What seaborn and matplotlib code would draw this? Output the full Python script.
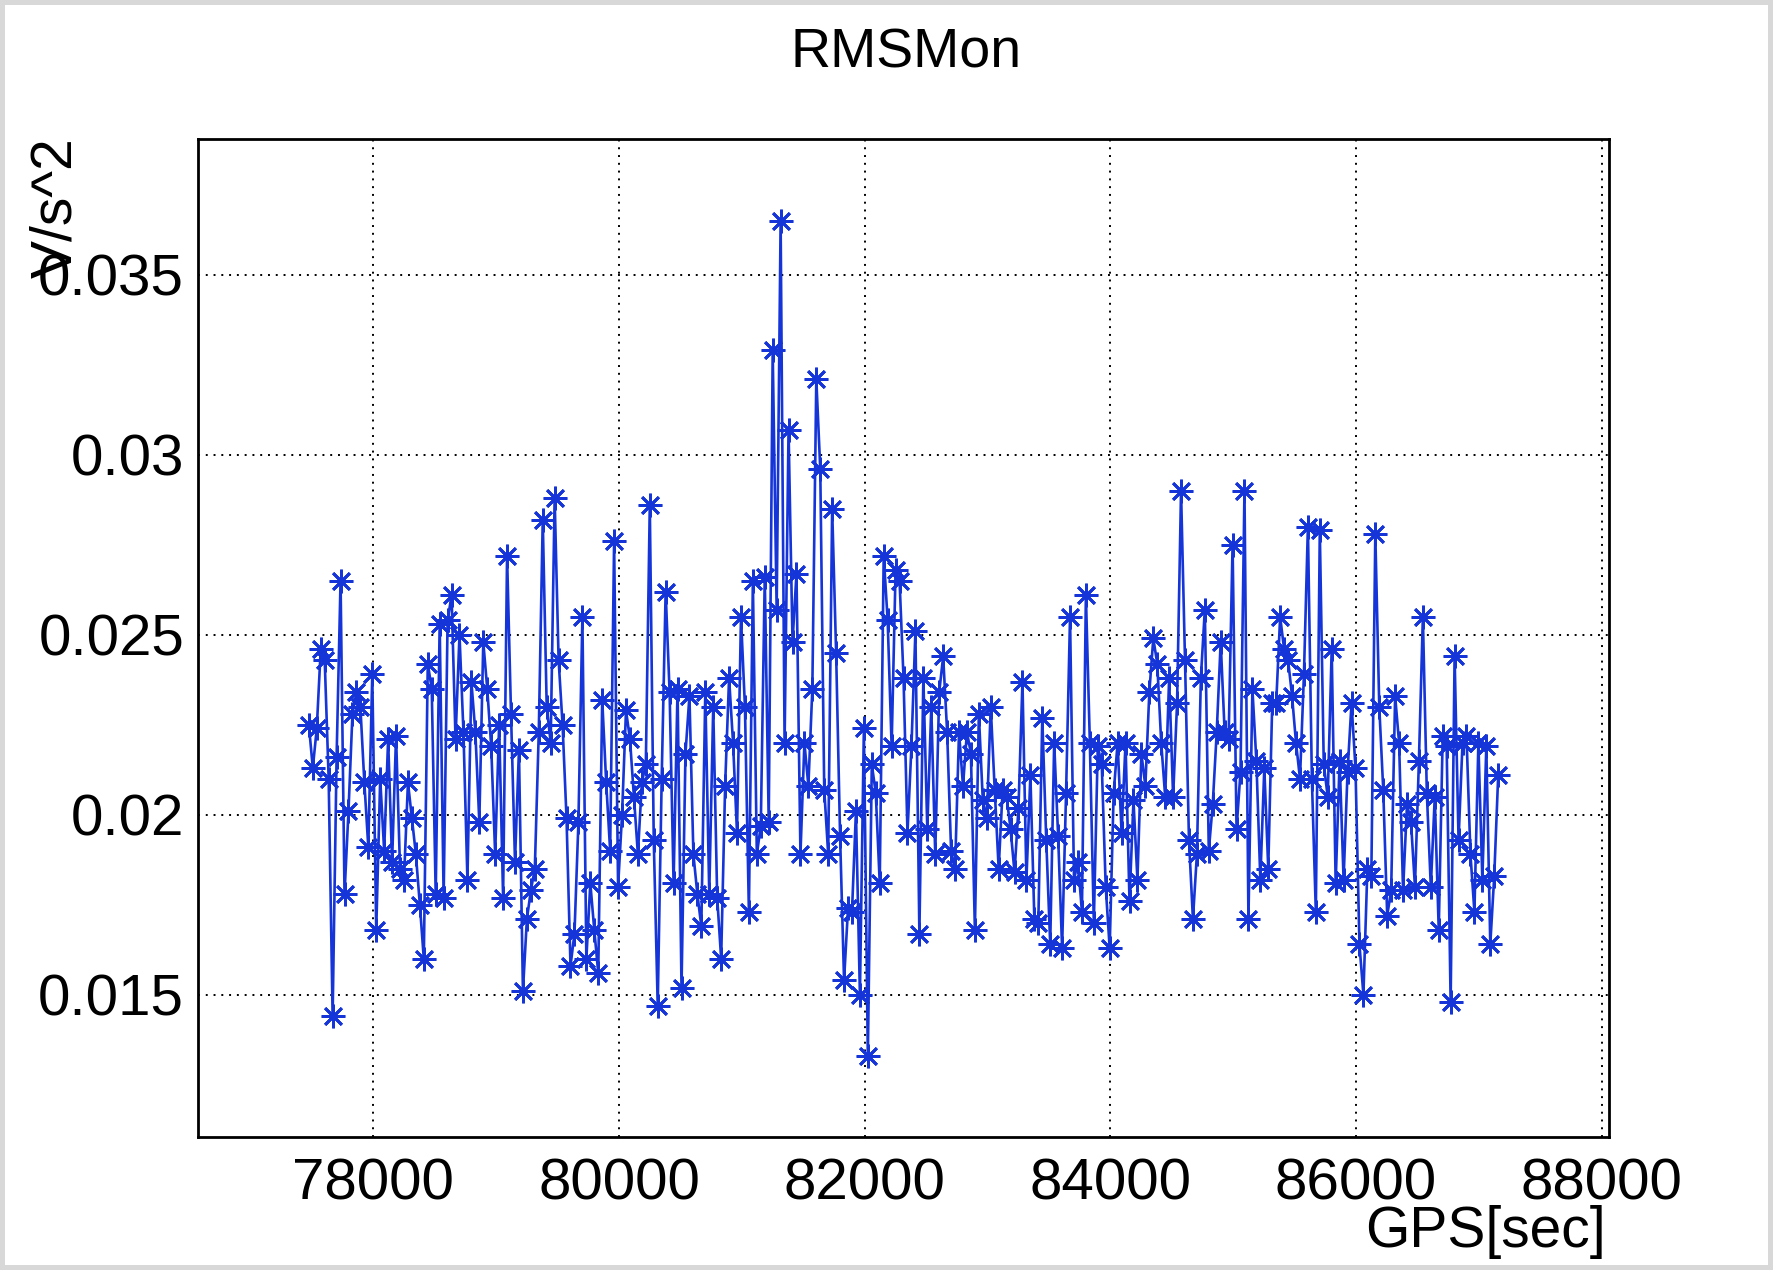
import numpy as np
import pandas as pd
import seaborn as sns
import matplotlib.pyplot as plt
from matplotlib.ticker import MultipleLocator, FuncFormatter

# RMS trace left to right (units of 1e-3 V/s^2)
rms_milli = [
    22.5, 21.3, 22.4, 24.6, 24.3, 21.0, 14.4, 21.6, 26.5, 17.8,
    20.1, 22.8, 23.4, 23.0, 20.9, 19.1, 23.9, 16.8, 21.0, 19.0,
    22.1, 18.7, 22.2, 18.5, 18.2, 20.9, 19.9, 18.9, 17.5, 16.0,
    24.2, 23.5, 17.8, 25.3, 17.7, 25.4, 26.1, 22.1, 25.0, 22.3,
    18.2, 23.7, 22.3, 19.8, 24.8, 23.5, 21.9, 18.9, 22.5, 17.7,
    27.2, 22.8, 18.7, 21.8, 15.1, 17.1, 17.9, 18.5, 22.3, 28.2,
    23.0, 22.0, 28.8, 24.3, 22.5, 19.9, 15.8, 16.7, 19.8, 25.5,
    16.0, 18.1, 16.8, 15.6, 23.2, 20.9, 19.0, 27.6, 18.0, 20.0,
    22.9, 22.1, 20.5, 18.9, 20.9, 21.4, 28.6, 19.3, 14.7, 21.0,
    26.2, 23.4, 18.1, 23.5, 15.2, 21.7, 23.3, 18.9, 17.8, 16.9,
    23.4, 17.8, 23.0, 17.7, 16.0, 20.8, 23.8, 22.0, 19.5, 25.5,
    23.0, 17.3, 26.5, 18.9, 19.7, 26.6, 19.8, 32.9, 25.7, 36.5,
    22.0, 30.7, 24.8, 26.7, 18.9, 22.0, 20.8, 23.5, 32.1, 29.6,
    20.7, 18.9, 28.5, 24.5, 19.4, 15.4, 17.4, 17.3, 20.1, 15.0,
    22.4, 13.3, 21.4, 20.6, 18.1, 27.2, 25.4, 21.9, 26.8, 26.5,
    23.8, 19.5, 21.9, 25.1, 16.7, 23.8, 19.6, 23.0, 18.9, 23.4,
    24.4, 22.3, 19.0, 18.5, 22.3, 20.8, 22.3, 21.7, 16.8, 22.8,
    20.4, 19.9, 23.0, 20.7, 18.5, 20.7, 20.5, 19.6, 18.4, 20.2,
    23.7, 18.2, 21.1, 17.1, 17.0, 22.7, 19.3, 16.4, 22.0, 19.4,
    16.3, 20.6, 25.5, 18.2, 18.7, 17.3, 26.1, 22.0, 17.0, 21.9,
    21.4, 18.0, 16.3, 20.6, 22.0, 19.5, 22.0, 17.6, 20.4, 18.2,
    21.7, 20.8, 23.4, 24.9, 24.2, 22.0, 20.5, 23.8, 20.5, 23.1,
    29.0, 24.3, 19.3, 17.1, 18.9, 23.8, 25.7, 19.0, 20.3, 22.3,
    24.8, 22.3, 22.1, 27.5, 19.6, 21.2, 29.0, 17.1, 23.5, 21.5,
    18.2, 21.3, 18.5, 23.1, 23.1, 25.5, 24.6, 24.3, 23.3, 22.0,
    21.0, 23.9, 28.0, 21.0, 17.3, 27.9, 21.4, 20.5, 24.6, 18.1,
    21.5, 18.2, 21.2, 23.1, 21.3, 16.4, 15.0, 18.5, 18.3, 27.8,
    23.0, 20.7, 17.2, 17.9, 23.3, 22.0, 17.9, 20.3, 19.8, 18.0,
    21.5, 25.5, 20.6, 18.0, 20.5, 16.8, 22.2, 21.9, 14.8, 24.4,
    19.3, 22.0, 22.2, 18.9, 17.3, 22.0, 18.2, 21.9, 16.4, 18.3, 21.1,
]
gps_first = 77475
gps_last = 87158

gps = np.linspace(gps_first, gps_last, len(rms_milli))
df = pd.DataFrame({'GPS': gps, 'RMS': np.array(rms_milli) * 1e-3})

sns.set_style('white')
plt.rcParams['font.family'] = ['Liberation Sans', 'DejaVu Sans']
plt.rcParams['text.color'] = 'black'
plt.rcParams['xtick.color'] = 'black'
plt.rcParams['ytick.color'] = 'black'

fig = plt.figure(figsize=(17.73, 12.7), dpi=100)
ax = fig.add_axes([0.1117, 0.1047, 0.7958, 0.7859])

blue = '#1535d8'
sns.lineplot(data=df, x='GPS', y='RMS', ax=ax, sort=False, color=blue,
             linewidth=1.9, marker=(8, 2, 0), markersize=17,
             markeredgecolor=blue, markeredgewidth=2.0)

ax.set_xlim(76573, 88060)
ax.set_ylim(0.01105, 0.03877)

ax.xaxis.set_major_locator(MultipleLocator(2000))
ax.xaxis.set_minor_locator(MultipleLocator(500))
ax.yaxis.set_major_locator(MultipleLocator(0.005))
ax.yaxis.set_minor_locator(MultipleLocator(0.001))
ax.yaxis.set_major_formatter(FuncFormatter(lambda v, p: '%g' % round(v, 4)))

ax.tick_params(which='both', direction='in', top=False, right=False,
               labelsize=42, colors='black', width=1.6)
ax.tick_params(axis='x', which='major', length=32, pad=15)
ax.tick_params(axis='x', which='minor', length=17)
ax.tick_params(axis='y', which='major', length=40, pad=10)
ax.tick_params(axis='y', which='minor', length=22)

ax.grid(True, which='major', color='black', linestyle=(0, (1, 3)), linewidth=1.4)
for s in ax.spines.values():
    s.set_color('black')
    s.set_linewidth(2)

ax.set_xlabel('')
ax.set_ylabel('')

fig.text(0.511, 0.958, 'RMSMon', ha='center', va='center', fontsize=40, color='black')
fig.text(0.032, 0.892, 'V/s^2', rotation=90, ha='center', va='top', fontsize=41, color='black')
fig.text(0.906, 0.030, 'GPS[sec]', ha='right', va='center', fontsize=41, color='black')

fig.patch.set_edgecolor('#d8d8d8')
fig.patch.set_linewidth(6)

fig.savefig('out.png', dpi=100)
